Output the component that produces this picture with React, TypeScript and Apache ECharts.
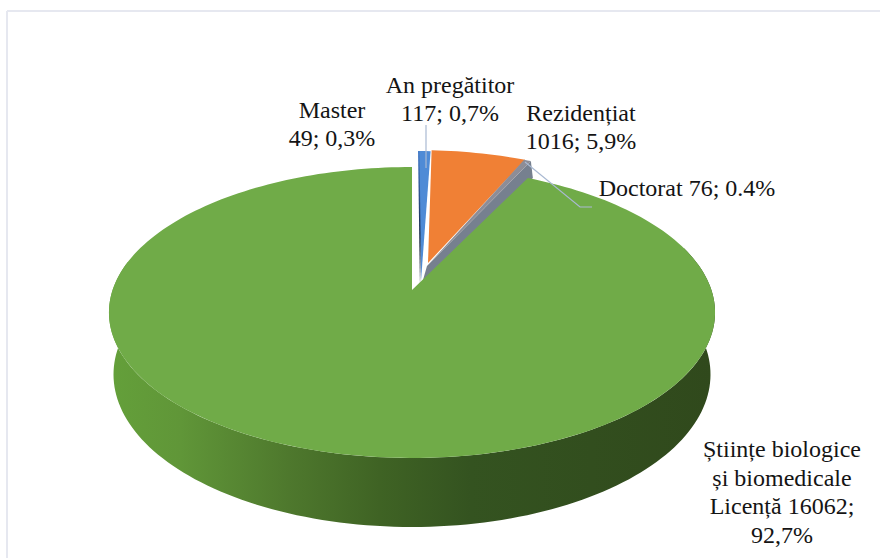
import React, { useEffect, useRef } from "react";
import * as echarts from "echarts";

const categories = ["Master", "An pregătitor", "Rezidențiat", "Doctorat", "Științe biologice și biomedicale Licență"];
const values = [49, 117, 1016, 76, 16062];
const colors = ["#25324f", "#4f8bd6", "#f08035", "#8d8d97", "#70ab48"];
const labelTexts = [
  "Master\n49; 0,3%",
  "An pregătitor\n117; 0,7%",
  "Rezidențiat\n1016; 5,9%",
  "Doctorat 76; 0.4%",
  "Științe biologice\nși biomedicale\nLicență 16062;\n92,7%",
];

const W = 880, H = 558;
const CX = 412, CY = 290, A = 299.4, B = 142, K = 0.1546;
const FONT = '"Liberation Serif", "Times New Roman", serif';
const total = values.reduce((a, b) => a + b, 0);

const arcOffset = [[6, -16], [3, -16], [4, -17], [3, -17], [0, 0]];
const apexes = [[420, 287], [421, 281], [428, 263], [427, 266], [412, 290]];
const labelPos = [[332, 124], [450, 99], [581, 127], [687, 188], [782, 492]];

function pt(deg: number) {
  const t = (deg * Math.PI) / 180;
  const w = 1 + K * Math.cos(t);
  return [CX + (A * Math.sin(t)) / w, CY - (B * Math.cos(t)) / w];
}
function bottom(p: number[]) {
  return [CX + (p[0] - CX) * 0.985, p[1] + 62 + ((p[1] - 313) / 145) * 7];
}
function arc(a0: number, a1: number, off: number[]) {
  const n = Math.max(2, Math.ceil(Math.abs(a1 - a0) / 1.5));
  const out: number[][] = [];
  for (let i = 0; i <= n; i++) {
    const p = pt(a0 + ((a1 - a0) * i) / n);
    out.push([p[0] + off[0], p[1] + off[1]]);
  }
  return out;
}

const frameAndLeaders = [
  { type: "line", shape: { x1: 7, y1: 11, x2: 880, y2: 11 }, style: { stroke: "#e6e8f0", lineWidth: 2 } },
  { type: "line", shape: { x1: 7, y1: 11, x2: 7, y2: 558 }, style: { stroke: "#e6e8f0", lineWidth: 2 } },
  { type: "line", shape: { x1: 426, y1: 125, x2: 426, y2: 168 }, style: { stroke: "#a9b9d2", lineWidth: 1.2 } },
  { type: "polyline", shape: { points: [[525, 162], [580, 207], [592, 207]] }, style: { stroke: "#a9b9d2", lineWidth: 1.2, fill: "none" } },
];

const wallGradient = () =>
  new echarts.graphic.LinearGradient(108, 0, 712, 0, [
    { offset: 0, color: "#64a03a" },
    { offset: 0.12, color: "#609638" },
    { offset: 0.3, color: "#4e782d" },
    { offset: 0.45, color: "#3f6324" },
    { offset: 0.6, color: "#345320" },
    { offset: 1, color: "#30491c" },
  ], true as any);

const masterGradient = () =>
  new echarts.graphic.LinearGradient(0, 150, 0, 285, [
    { offset: 0, color: "#4a80cc" },
    { offset: 0.35, color: "#2c4f8c" },
    { offset: 0.7, color: "#121c34" },
    { offset: 1, color: "#111a2c" },
  ], true as any);

function renderItem(params: any, api: any) {
  const i = params.dataIndex;
  let before = 0;
  for (let j = 0; j < i; j++) before += values[j];
  const a0 = (before / total) * 360;
  const a1 = ((before + api.value(0)) / total) * 360;
  const off = arcOffset[i];
  const apex = apexes[i];
  const top = arc(a0, a1, off);
  const children: any[] = [];
  if (i === 4) {
    const front = arc(72, 282, off);
    const wall = front.concat(front.map(bottom).reverse());
    children.push({ type: "polygon", shape: { points: wall }, style: { fill: wallGradient() } });
  }
  if (i === 3) {
    const e = top[top.length - 1];
    children.push({
      type: "polygon",
      shape: { points: [apex, e, [e[0] + 2, e[1] + 17], [421, 287]] },
      style: { fill: "#76808f" },
    });
  }
  children.push({
    type: "polygon",
    shape: { points: [apex].concat(top) },
    style: { fill: i === 0 ? masterGradient() : colors[i] },
  });
  return { type: "group", children };
}

function buildGraphic() {
  const texts = labelTexts.map((t, i) => ({
    type: "text",
    x: labelPos[i][0],
    y: labelPos[i][1],
    style: {
      text: t,
      font: `24px ${FONT}`,
      fill: "#141414",
      align: "center",
      verticalAlign: "middle",
      lineHeight: i === 4 ? 28.5 : 28,
    },
  }));
  return [...frameAndLeaders, ...texts];
}

export default function App() {
  const ref = useRef<HTMLDivElement>(null);
  useEffect(() => {
    const chart = echarts.init(ref.current!, undefined, { renderer: "svg" });
    chart.setOption({
      animation: false,
      backgroundColor: "#ffffff",
      series: [
        {
          type: "custom",
          coordinateSystem: "none",
          renderItem,
          data: categories.map((name, i) => ({ name, value: [values[i]] })),
          z: 1,
        },
      ],
      graphic: { elements: buildGraphic().map((g) => ({ ...g, z: 10 })) },
    });
    return () => chart.dispose();
  }, []);
  return (
    <div style={{ position: "fixed", left: 0, top: 0, width: W, height: H, background: "#fff" }}>
      <div ref={ref} style={{ position: "absolute", left: 0, top: 0, width: W, height: H }} />
    </div>
  );
}
